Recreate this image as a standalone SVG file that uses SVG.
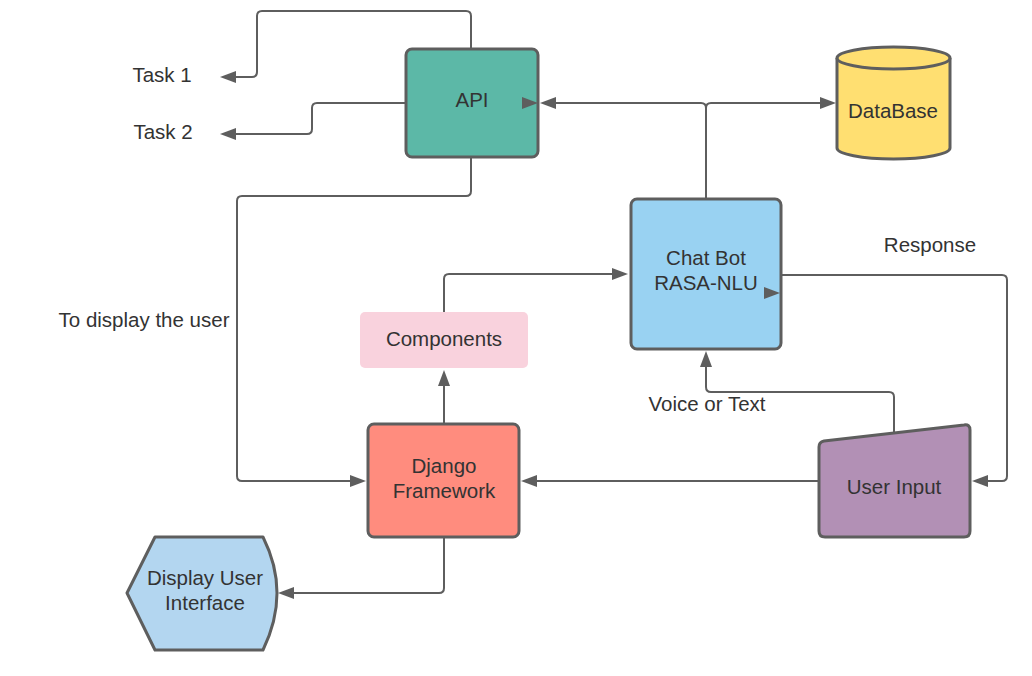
<svg xmlns="http://www.w3.org/2000/svg" width="1032" height="676" viewBox="0 0 1032 676">
<style>
.node{stroke:#5e5e5e;stroke-width:3;stroke-linejoin:round}
.c{fill:none;stroke:#5e5e5e;stroke-width:2;marker-end:url(#ah)}
text{font-family:"Liberation Sans",Arial,sans-serif;font-size:20.5px;fill:#333333;text-anchor:middle}
</style>
<defs>
<marker id="ah" markerUnits="userSpaceOnUse" markerWidth="16" markerHeight="12" refX="13" refY="6" orient="auto">
<path d="M0,0 L16,6 L0,12 z" fill="#5e5e5e"/>
</marker>
</defs>
<rect width="1032" height="676" fill="#ffffff"/>
<g id="connectors">
<path class="c" d="M471,49 V16 Q471,11 466,11 H262 Q257,11 257,16 V72 Q257,77 252,77 H223"/>
<path class="c" d="M406,103 H317 Q312,103 312,108 V129 Q312,134 307,134 H223"/>
<path class="c" d="M706,199 V108 Q706,103 701,103 H543"/>
<path class="c" d="M706,199 V108 Q706,103 711,103 H833"/>
<path class="c" d="M471,157 V191 Q471,196 466,196 H242 Q237,196 237,201 V476 Q237,481 242,481 H363"/>
<path class="c" d="M444,312 V279 Q444,274 449,274 H625"/>
<path class="c" d="M444,424 V373"/>
<path class="c" d="M819,481 H524"/>
<path class="c" d="M444,537 V588 Q444,593 439,593 H281"/>
<path class="c" d="M781,275 H1002 Q1007,275 1007,280 V476 Q1007,481 1002,481 H975"/>
<path class="c" d="M894,433 V397 Q894,392 889,392 H711 Q706,392 706,387 V354"/>
</g>
<g id="api">
<rect class="node" x="406" y="49" width="132" height="108" rx="6" fill="#5cb8a7"/>
<text x="472" y="107">API</text>
<path class="c" d="M534,103 L535,103"/>
</g>
<g id="database">
<path class="node" d="M837,58 V148 A56.5,11 0 0 0 950,148 V58" fill="#ffdf71"/>
<ellipse class="node" cx="893.5" cy="58" rx="56.5" ry="11" fill="#ffdf71"/>
<text x="893" y="118">DataBase</text>
</g>
<g id="chatbot">
<rect class="node" x="631" y="199" width="150" height="150" rx="6" fill="#99d2f2"/>
<text x="706" y="265">Chat Bot</text>
<text x="706" y="290">RASA-NLU</text>
<path class="c" d="M776,293 L777,293"/>
</g>
<g id="components">
<rect x="360" y="312" width="168" height="56" rx="5" fill="#f9d2dd"/>
<text x="444" y="346">Components</text>
</g>
<g id="django">
<rect class="node" x="368" y="424" width="151" height="113" rx="6" fill="#ff8c7e"/>
<text x="444" y="473">Django</text>
<text x="444" y="498">Framework</text>
</g>
<g id="userinput">
<path class="node" d="M824,441 L964,425 Q970,424 970,430 V531 Q970,537 964,537 H825 Q819,537 819,531 V447 Q819,442 824,441 Z" fill="#b290b5"/>
<text x="894" y="494">User Input</text>
</g>
<g id="display">
<path class="node" d="M127,593 L155,537 H263 Q277,565 277,593 Q277,621 263,650 H155 Z" fill="#b3d6f0"/>
<text x="205" y="585">Display User</text>
<text x="205" y="610">Interface</text>
</g>
<g id="labels">
<text x="162" y="82">Task 1</text>
<text x="163" y="139">Task 2</text>
<text x="930" y="252">Response</text>
<text x="144" y="327">To display the user</text>
<text x="707" y="411">Voice or Text</text>
</g>
</svg>
